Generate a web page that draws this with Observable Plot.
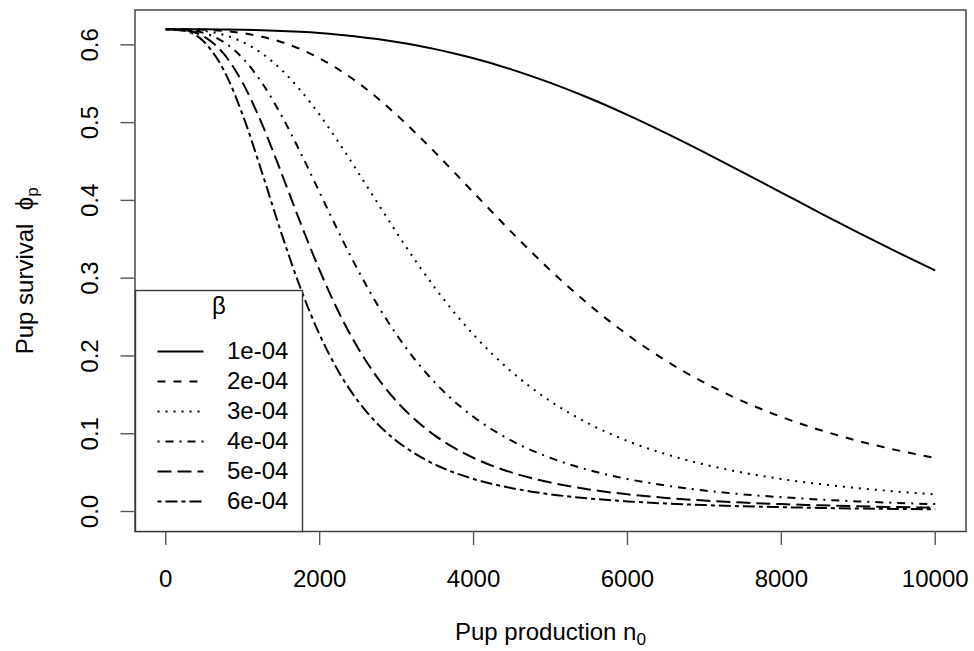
<!DOCTYPE html>
<html>
<head>
<meta charset="utf-8">
<script src="https://cdn.jsdelivr.net/npm/d3@7"></script>
<script src="https://cdn.jsdelivr.net/npm/@observablehq/plot@0.6"></script>
<style>
  html, body { margin: 0; padding: 0; background: white; }
  #wrap { position: relative; width: 974px; height: 651px; }
  #legend { position: absolute; left: 134.5px; top: 290px; }
  svg { overflow: visible; }
</style>
</head>
<body>
<div id="wrap"></div>
<script>
// ---- data ----
const pupProduction = [0,250,500,750,1000,1250,1500,1750,2000,2250,2500,2750,3000,3250,3500,3750,4000,4500,5000,5500,6000,6500,7000,7500,8000,8500,9000,9500,10000];
const betaLabels = ["1e-04","2e-04","3e-04","4e-04","5e-04","6e-04"];
const survival_1e4 = [0.620,0.620,0.6199,0.6197,0.6194,0.6188,0.6179,0.6167,0.6151,0.6130,0.6105,0.6074,0.6037,0.5994,0.5945,0.5889,0.5827,0.5682,0.5511,0.5316,0.5099,0.4864,0.4617,0.4360,0.4101,0.3841,0.3586,0.3338,0.3100];
const survival_2e4 = [0.620,0.6199,0.6194,0.6179,0.6151,0.6105,0.6037,0.5945,0.5827,0.5682,0.5511,0.5316,0.5099,0.4864,0.4617,0.4360,0.4101,0.3586,0.3100,0.2660,0.2273,0.1939,0.1656,0.1417,0.1217,0.1049,0.0907,0.0789,0.0689];
const survival_3e4 = [0.620,0.6197,0.6179,0.6130,0.6037,0.5889,0.5682,0.5416,0.5099,0.4742,0.4360,0.3971,0.3586,0.3218,0.2874,0.2558,0.2273,0.1792,0.1417,0.1129,0.0907,0.0737,0.0604,0.0500,0.0418,0.0353,0.0300,0.0257,0.0221];
const survival_4e4 = [0.620,0.6194,0.6151,0.6037,0.5827,0.5511,0.5099,0.4617,0.4101,0.3586,0.3100,0.2660,0.2273,0.1939,0.1656,0.1417,0.1217,0.0907,0.0689,0.0532,0.0418,0.0334,0.0270,0.0221,0.0184,0.0154,0.0130,0.0111,0.0095];
const survival_5e4 = [0.620,0.6188,0.6105,0.5889,0.5511,0.4983,0.4360,0.3713,0.3100,0.2558,0.2099,0.1722,0.1417,0.1172,0.0975,0.0817,0.0689,0.0500,0.0373,0.0284,0.0221,0.0175,0.0141,0.0115,0.0095,0.0080,0.0067,0.0057,0.0049];
const survival_6e4 = [0.620,0.6179,0.6037,0.5682,0.5099,0.4360,0.3586,0.2874,0.2273,0.1792,0.1417,0.1129,0.0907,0.0737,0.0604,0.0500,0.0418,0.0300,0.0221,0.0168,0.0130,0.0103,0.0083,0.0067,0.0056,0.0046,0.0039,0.0033,0.0029];
const xTicks = [0,2000,4000,6000,8000,10000];
const yTicks = [0.0,0.1,0.2,0.3,0.4,0.5,0.6];
const xLabelMain = "Pup production n", xLabelSub = "0";
const yLabelMain = "Pup survival\u00a0\u00a0\u03d5", yLabelSub = "p";
const legendTitle = "\u03b2";

// ---- styles ----
const lineDashes = [null, "8,8", "2,6", "2,6,8,6", "14,6", "4,4,12,4"];
const seriesValues = [survival_1e4, survival_2e4, survival_3e4, survival_4e4, survival_5e4, survival_6e4];
const rows = [];
betaLabels.forEach((b, i) => pupProduction.forEach((n, j) => rows.push({beta: b, n, phi: seriesValues[i][j]})));

const font = "'Liberation Sans', Arial, Helvetica, sans-serif";
const frameColor = "#3a3a3a";

const chart = Plot.plot({
  width: 974, height: 651,
  marginLeft: 134.5, marginRight: 8.5, marginTop: 9.5, marginBottom: 120,
  style: {fontFamily: font, fontSize: "24px", background: "white", color: "black"},
  x: {domain: [-400, 10400], axis: null},
  y: {domain: [-0.0257, 0.6448], axis: null},
  marks: [
    ...betaLabels.map((b, i) => Plot.line(rows, {
      filter: d => d.beta === b, x: "n", y: "phi", curve: "monotone-x",
      stroke: "black", strokeWidth: 2, strokeLinecap: "butt",
      strokeDasharray: lineDashes[i] || undefined
    })),
    Plot.frame({stroke: frameColor, strokeWidth: 1.4}),
    Plot.axisX({ticks: xTicks, tickSize: 14, tickPadding: 24, tickFormat: d => String(d), label: null, stroke: "#555", strokeWidth: 1.4, fontSize: 24}),
    Plot.axisY({ticks: yTicks, tickSize: 14, tickFormat: () => "", label: null, stroke: "#555", strokeWidth: 1.4}),
    Plot.text(yTicks, {y: d => d, text: d => d.toFixed(1), frameAnchor: "left", dx: -44.5, rotate: -90, textAnchor: "middle", lineAnchor: "middle", fontSize: 24}),
    Plot.text([xLabelMain], {text: d => d, frameAnchor: "bottom", dy: 108, lineAnchor: "bottom", fontSize: 24}),
    Plot.text([yLabelMain], {text: d => d, frameAnchor: "left", dx: -102, rotate: -90, textAnchor: "middle", lineAnchor: "bottom", fontSize: 24})
  ]
});

// subscripts
function addSub(svg, main, sub) {
  d3.select(svg).selectAll("text")
    .filter(function() { return this.textContent === main; })
    .each(function() {
      const t = d3.select(this);
      t.append("tspan").attr("font-size", "0.72em").attr("dy", "0.3em").text(sub);
    });
}
addSub(chart, xLabelMain, xLabelSub);
addSub(chart, yLabelMain, yLabelSub);

const legend = Plot.plot({
  width: 167, height: 241,
  margin: 0,
  style: {fontFamily: font, fontSize: "24px", background: "white", color: "black"},
  y: {type: "point", domain: betaLabels, range: [61, 211], padding: 0, axis: null},
  marks: [
    Plot.frame({stroke: frameColor, strokeWidth: 1.4}),
    Plot.text([legendTitle], {text: d => d, frameAnchor: "top", dy: 16, lineAnchor: "middle", fontSize: 24}),
    ...betaLabels.map((b, i) => Plot.ruleY([b], {
      y: d => d, insetLeft: 22.5, insetRight: 98.5,
      stroke: "black", strokeWidth: 2, strokeLinecap: "butt",
      strokeDasharray: lineDashes[i] || undefined
    })),
    Plot.text(betaLabels, {y: d => d, text: d => d, frameAnchor: "left", dx: 91.5, textAnchor: "start", lineAnchor: "middle", fontSize: 24})
  ]
});
legend.id = "legend";

const wrap = document.getElementById("wrap");
wrap.appendChild(chart);
wrap.appendChild(legend);
</script>
</body>
</html>
